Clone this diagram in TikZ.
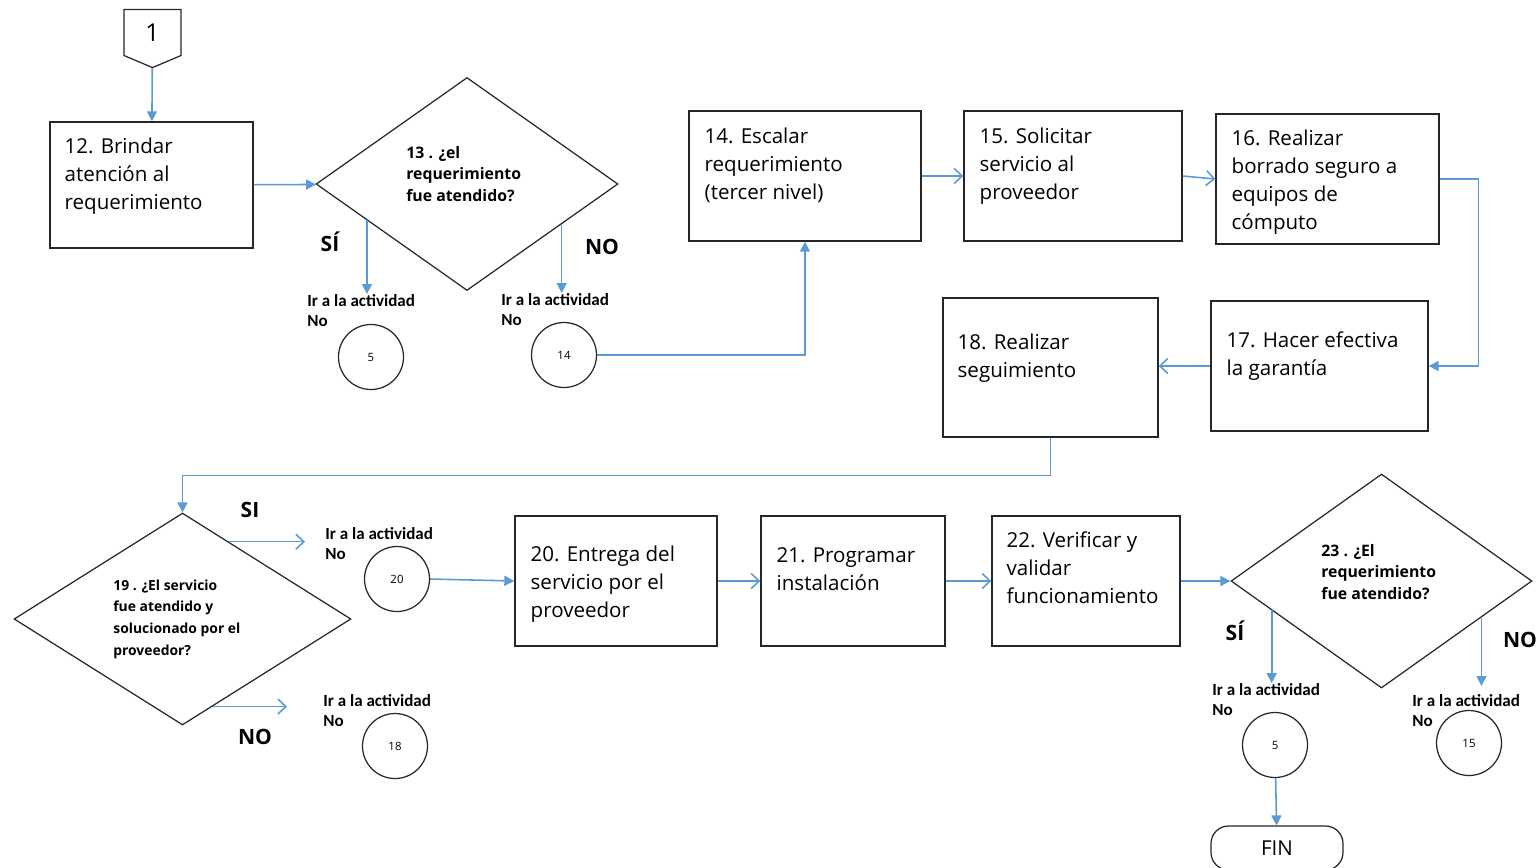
\documentclass[tikz,border=0pt]{standalone}
\usepackage{fontspec}
\setmainfont{Open Sans}
\newfontfamily\calfont{Carlito}
\usetikzlibrary{arrows.meta,shapes.geometric,shapes.symbols}
\definecolor{lineblue}{RGB}{91,155,213}
\begin{document}
\begin{tikzpicture}[
  x=0.02cm, y=-0.02cm,
  box/.style={draw=black!85, line width=0.8pt, inner sep=0pt},
  btext/.style={anchor=north west, inner sep=0pt, align=left, font=\fontsize{11.7}{15.9}\selectfont},
  decision/.style={diamond, draw=black!85, line width=0.7pt, inner sep=0pt},
  dtext/.style={anchor=west, inner sep=0pt, align=left, font=\bfseries\fontsize{9}{12.4}\selectfont},
  goto/.style={anchor=north west, inner sep=0pt, align=left, font=\calfont\bfseries\fontsize{9.7}{11.4}\selectfont},
  conn/.style={circle, draw=black!85, line width=0.7pt, minimum size=1.3cm, inner sep=0pt, font=\fontsize{6.5}{8}\selectfont},
  answer/.style={font=\bfseries\fontsize{12}{14}\selectfont},
  fl/.style={draw=lineblue, line width=0.9pt, -{Triangle[length=0.2cm,width=0.2cm]}},
  ol/.style={draw=lineblue, line width=0.9pt, -{Straight Barb[length=0.16cm,width=0.3cm]}}
]
\useasboundingbox (0,0) rectangle (1538,867);
% off-page connector
\node[signal, signal to=south, signal pointer angle=134, draw=black!85, line width=0.7pt,
  minimum width=1.14cm, minimum height=0.98cm, inner sep=0pt, font=\fontsize{14}{16}\selectfont] (off1) at (152.5,32.5) {1};
% activity boxes
\node[box, minimum width=4.06cm, minimum height=2.52cm] (b12) at (151.5,185) {};
\node[btext] at ([xshift=0.3cm,yshift=-0.32cm]b12.north west) {12. Brindar\\atención al\\requerimiento};
\node[box, minimum width=4.64cm, minimum height=2.6cm] (b14) at (805,176) {};
\node[btext] at ([xshift=0.32cm,yshift=-0.34cm]b14.north west) {14. Escalar\\requerimiento\\(tercer nivel)};
\node[box, minimum width=4.36cm, minimum height=2.6cm] (b15) at (1073,176) {};
\node[btext] at ([xshift=0.32cm,yshift=-0.34cm]b15.north west) {15. Solicitar\\servicio al\\proveedor};
\node[box, minimum width=4.46cm, minimum height=2.6cm] (b16) at (1327.5,179) {};
\node[btext] at ([xshift=0.32cm,yshift=-0.32cm]b16.north west) {16. Realizar\\borrado seguro a\\equipos de\\cómputo};
\node[box, minimum width=4.34cm, minimum height=2.6cm] (b17) at (1319.5,366) {};
\node[btext] at ([xshift=0.32cm,yshift=-0.62cm]b17.north west) {17. Hacer efectiva\\la garantía};
\node[box, minimum width=4.3cm, minimum height=2.78cm] (b18) at (1050.5,367.5) {};
\node[btext] at ([xshift=0.3cm,yshift=-0.72cm]b18.north west) {18. Realizar\\seguimiento};
\node[box, minimum width=4.04cm, minimum height=2.6cm] (b20) at (616,581) {};
\node[btext] at ([xshift=0.32cm,yshift=-0.6cm]b20.north west) {20. Entrega del\\servicio por el\\proveedor};
\node[box, minimum width=3.68cm, minimum height=2.6cm] (b21) at (853,581) {};
\node[btext] at ([xshift=0.32cm,yshift=-0.64cm]b21.north west) {21. Programar\\instalación};
\node[box, minimum width=3.76cm, minimum height=2.6cm] (b22) at (1086,581) {};
\node[btext] at ([xshift=0.3cm,yshift=-0.32cm]b22.north west) {22. Verificar y\\validar\\funcionamiento};
% decisions
\node[decision, minimum width=6.04cm, minimum height=4.26cm] (d13) at (467,184) {};
\node[dtext] at ([xshift=-1.22cm,yshift=0.2cm]d13.center) {13 . ¿el\\requerimiento\\fue atendido?};
\node[decision, minimum width=6.74cm, minimum height=4.24cm] (d19) at (182.5,619) {};
\node[dtext, font=\bfseries\fontsize{7.9}{12.3}\selectfont] at ([xshift=-1.39cm]d19.center) {19 . ¿El servicio\\fue atendido y\\solucionado por el\\proveedor?};
\node[decision, minimum width=6.02cm, minimum height=4.28cm] (d23) at (1381.5,581) {};
\node[dtext] at ([xshift=-1.21cm,yshift=0.18cm]d23.center) {23 . ¿El\\requerimiento\\fue atendido?};
% answers
\node[answer] at ([xshift=-2.74cm,yshift=-1.16cm]d13.center) {SÍ};
\node[answer] at ([xshift=2.7cm,yshift=-1.26cm]d13.center) {NO};
\node[answer] at ([xshift=1.35cm,yshift=2.18cm]d19.center) {SI};
\node[answer] at ([xshift=1.45cm,yshift=-2.36cm]d19.center) {NO};
\node[answer] at ([xshift=-2.93cm,yshift=-1.0cm]d23.center) {SÍ};
\node[answer] at ([xshift=2.77cm,yshift=-1.18cm]d23.center) {NO};
% connectors to other activities
\node[conn] (c5a) at (371,357) {5};
\node[goto] (lbl5a) at ([xshift=-1.28cm,yshift=1.26cm]c5a.center) {Ir a la actividad\\No};
\node[conn] (c14) at (564,355) {14};
\node[goto] (lbl14) at ([xshift=-1.26cm,yshift=1.24cm]c14.center) {Ir a la actividad\\No};
\node[conn] (c20) at (397,579) {20};
\node[goto] (lbl20) at ([xshift=-1.44cm,yshift=1.04cm]c20.center) {Ir a la actividad\\No};
\node[conn] (c18) at (395,746) {18};
\node[goto] (lbl18) at ([xshift=-1.44cm,yshift=1.04cm]c18.center) {Ir a la actividad\\No};
\node[conn] (c5b) at (1275,745) {5};
\node[goto] (lbl5b) at ([xshift=-1.26cm,yshift=1.24cm]c5b.center) {Ir a la actividad\\No};
\node[conn] (c15) at (1469,743) {15};
\node[goto] (lbl15) at ([xshift=-1.14cm,yshift=0.98cm]c15.center) {Ir a la actividad\\No};
\node[draw=black!85, line width=0.7pt, rounded corners=0.35cm, minimum width=2.64cm, minimum height=0.88cm,
  font=\fontsize{11.7}{14}\selectfont] (fin) at (1277,848) {FIN};
\coordinate (a20) at ([xshift=-0.4cm]lbl20.west);
\coordinate (a18) at ([xshift=-0.72cm]lbl18.west);
\coordinate (e15) at ([yshift=0.16cm]lbl15.north);
% flow
\draw[fl] (off1) -- (b12);
\draw[fl] (b12) -- (d13);
\draw[fl] (d13.200) -- (d13.200 |- lbl5a.north);
\draw[fl] (d13.337) -- (d13.337 |- lbl14.north);
\draw[fl] (c14) -| (b14);
\draw[ol] (b14) -- (b15);
\draw[ol] (b15.east) -- (b16.west);
\draw[fl] (b16.east) -- ++(0.78cm,0) |- (b17.east);
\draw[ol] (b17.west) -- (b18.east |- b17.west);
\draw[fl] (b18.south) -- ++(0,-0.76cm) -| (d19.north);
\draw[ol] (d19.59) -- (d19.59 -| a20);
\draw[ol] (d19.289) -- (d19.289 -| a18);
\draw[fl] (c20.east) -- (b20.west);
\draw[ol] (b20) -- (b21);
\draw[ol] (b21) -- (b22);
\draw[fl] (b22) -- (d23);
\draw[fl] (d23.195) -- (d23.195 |- lbl5b.north);
\draw[fl] (d23.340) -- (d23.340 |- e15);
\draw[fl] (c5b) -- (fin);
\end{tikzpicture}
\end{document}
